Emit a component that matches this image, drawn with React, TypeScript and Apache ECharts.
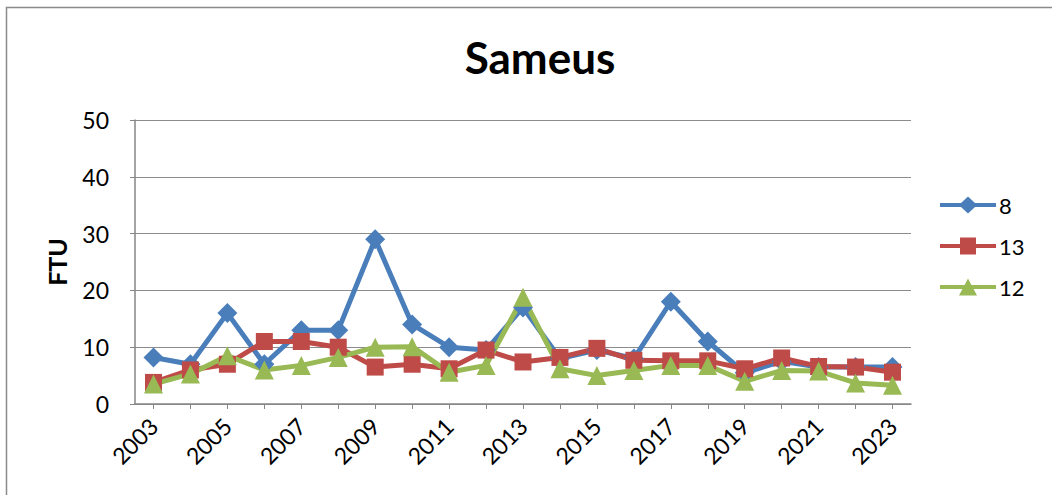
import React, { useEffect, useRef } from "react";
import * as echarts from "echarts";

const years = ["2003","2004","2005","2006","2007","2008","2009","2010","2011","2012","2013","2014","2015","2016","2017","2018","2019","2020","2021","2022","2023"];
const s8 = [8.2, 7, 16, 7, 13, 13, 29, 14, 10, 9.5, 17, 8, 9.5, 8, 18, 11, 5.5, 7.5, 6.5, 6.5, 6.5];
const s13 = [3.8, 6, 7, 11, 11, 10, 6.5, 7, 6.2, 9.5, 7.4, 8.2, 9.8, 7.7, 7.6, 7.6, 6.2, 8.1, 6.6, 6.5, 5.6];
const s12 = [3.5, 5.3, 8.5, 6, 6.8, 8.2, 10, 10.1, 5.6, 6.8, 18.8, 6.2, 5, 5.9, 6.8, 6.8, 4, 5.9, 5.8, 3.7, 3.3];
const yTicks = [0, 10, 20, 30, 40, 50];

const FONT = "Lato";

const ICON_DIAMOND = "path://M0 6.5H21L28 0L35 6.5H56V10.5H35L28 17L21 10.5H0Z";
const ICON_SQUARE = "path://M0 6.5H20V0H36V6.5H56V10.5H36V17H20V10.5H0Z";
const ICON_TRIANGLE = "path://M0 6.5H24.6L28 0L31.4 6.5H56V10.5H33.6L37 17H19L22.4 10.5H0Z";

export default function App() {
  const ref = useRef<HTMLDivElement>(null);
  useEffect(() => {
    const chart = echarts.init(ref.current!, null, { renderer: "svg" });
    const mk = (name: string, data: number[], color: string, symbol: string, size: number) => ({
      name,
      type: "line",
      data,
      symbol,
      symbolSize: size,
      showSymbol: true,
      lineStyle: { color, width: 5 },
      itemStyle: { color },
      z: 2,
    });
    chart.setOption({
      animation: false,
      backgroundColor: "#ffffff",
      title: {
        text: "Sameus",
        left: 535,
        top: 30,
        textAlign: "center",
        textStyle: { fontFamily: FONT, fontWeight: "bold", fontSize: 44, color: "#000" },
      },
      legend: {
        orient: "vertical",
        left: 935,
        top: 189,
        itemWidth: 56,
        itemHeight: 17,
        itemGap: 19,
        textStyle: { fontFamily: FONT, fontSize: 22, color: "#000", padding: [0, 0, 0, -2] },
        data: [
          { name: "8", icon: ICON_DIAMOND },
          { name: "13", icon: ICON_SQUARE },
          { name: "12", icon: ICON_TRIANGLE },
        ],
      },
      grid: { left: 135, right: 141, top: 120, bottom: 91, containLabel: false },
      xAxis: {
        type: "category",
        data: years,
        boundaryGap: true,
        axisLine: { lineStyle: { color: "#868686", width: 1.5 } },
        axisTick: { show: true, alignWithLabel: true, interval: 0, length: 5, lineStyle: { color: "#868686" } },
        axisLabel: {
          interval: 1,
          rotate: 45,
          margin: 18,
          fontFamily: FONT,
          fontSize: 23,
          color: "#000",
        },
        splitLine: { show: false },
      },
      yAxis: {
        type: "value",
        min: yTicks[0],
        max: yTicks[yTicks.length - 1],
        interval: 10,
        axisLine: { show: true, lineStyle: { color: "#868686", width: 1.5 } },
        axisTick: { show: true, length: 5, lineStyle: { color: "#868686" } },
        axisLabel: { fontFamily: FONT, fontSize: 23, color: "#000", margin: 26 },
        splitLine: { lineStyle: { color: "#8c8c8c", width: 1 } },
        name: "FTU",
        nameLocation: "middle",
        nameGap: 66,
        nameTextStyle: { fontFamily: FONT, fontWeight: "bold", fontSize: 25, color: "#000" },
      },
      series: [
        mk("8", s8, "#4A7EBB", "diamond", 20),
        mk("13", s13, "#BE4B48", "rect", 17),
        mk("12", s12, "#98B954", "triangle", 19),
      ],
      graphic: [
        {
          type: "rect",
          shape: { x: 6.5, y: 7.5, width: 1100, height: 600 },
          style: { fill: "none", stroke: "#8a8a8a", lineWidth: 1.5 },
          silent: true,
        },
      ],
    });
    return () => chart.dispose();
  }, []);
  return (
    <div
      ref={ref}
      style={{ position: "absolute", left: 0, top: 0, width: 1052, height: 495 }}
    />
  );
}
